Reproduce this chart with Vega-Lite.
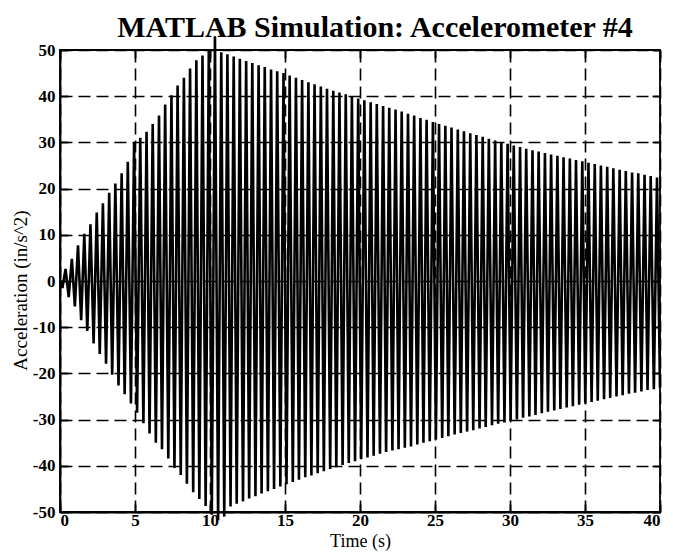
{
  "$schema": "https://vega.github.io/schema/vega-lite/v6.json",
  "width": 600,
  "height": 462,
  "autosize": "none",
  "padding": {"left": 60, "top": 50, "right": 13, "bottom": 43},
  "background": "white",
  "title": {"text": "MATLAB Simulation: Accelerometer #4", "font": "Liberation Serif", "fontSize": 30, "fontWeight": "bold", "color": "black", "anchor": "middle", "offset": -12, "dx": 15},
  "config": {
    "view": {"stroke": "black", "strokeWidth": 1.8},
    "axis": {
      "labelFont": "Liberation Serif", "labelFontSize": 17, "labelFontWeight": "bold", "labelColor": "black",
      "titleFont": "Liberation Serif", "titleFontSize": 19, "titleFontWeight": "normal", "titleColor": "black",
      "domainColor": "black", "domainWidth": 1.8, "tickColor": "black", "tickWidth": 1.8,
      "gridColor": "black", "gridOpacity": 1, "gridWidth": 1.6, "gridDash": [12, 6]
    }
  },
  "data": {"values": [
    {"t":0,"a":0},{"t":0.16,"a":-1.5},
    {"t":0.37,"a":2.6},{"t":0.58,"a":-3.5},
    {"t":0.79,"a":4.8},{"t":0.99,"a":-5.5},
    {"t":1.2,"a":7.7},{"t":1.41,"a":-8.5},
    {"t":1.62,"a":10.2},{"t":1.82,"a":-10.8},
    {"t":2.03,"a":12.3},{"t":2.24,"a":-13.5},
    {"t":2.45,"a":14.8},{"t":2.65,"a":-15.8},
    {"t":2.86,"a":16.8},{"t":3.07,"a":-17.9},
    {"t":3.28,"a":19.1},{"t":3.48,"a":-20.3},
    {"t":3.69,"a":21.1},{"t":3.9,"a":-22.6},
    {"t":4.11,"a":23.3},{"t":4.31,"a":-24.5},
    {"t":4.52,"a":25.8},{"t":4.73,"a":-26.5},
    {"t":4.94,"a":30},{"t":5.14,"a":-28.5},
    {"t":5.35,"a":31},{"t":5.56,"a":-30.8},
    {"t":5.77,"a":32.3},{"t":5.97,"a":-33},
    {"t":6.18,"a":34},{"t":6.39,"a":-35},
    {"t":6.6,"a":35.8},{"t":6.8,"a":-36.4},
    {"t":7.01,"a":38.2},{"t":7.22,"a":-38.4},
    {"t":7.43,"a":40.2},{"t":7.63,"a":-40.5},
    {"t":7.84,"a":42.3},{"t":8.05,"a":-42},
    {"t":8.26,"a":44},{"t":8.46,"a":-43.9},
    {"t":8.67,"a":46},{"t":8.88,"a":-45.7},
    {"t":9.09,"a":47.8},{"t":9.29,"a":-47.2},
    {"t":9.5,"a":48.8},{"t":9.71,"a":-48.7},
    {"t":9.92,"a":50},{"t":10.12,"a":-50.6},
    {"t":10.33,"a":53},{"t":10.54,"a":-51.8},
    {"t":10.75,"a":49.5},{"t":10.95,"a":-51},
    {"t":11.16,"a":49.1},{"t":11.37,"a":-48.8},
    {"t":11.58,"a":48.6},{"t":11.78,"a":-48.2},
    {"t":11.99,"a":48.1},{"t":12.2,"a":-47.7},
    {"t":12.41,"a":47.6},{"t":12.61,"a":-47.1},
    {"t":12.82,"a":47.2},{"t":13.03,"a":-46.6},
    {"t":13.24,"a":46.7},{"t":13.44,"a":-46},
    {"t":13.65,"a":46.3},{"t":13.86,"a":-45.5},
    {"t":14.07,"a":45.8},{"t":14.27,"a":-45},
    {"t":14.48,"a":45.4},{"t":14.69,"a":-44.5},
    {"t":14.9,"a":45},{"t":15.1,"a":-44},
    {"t":15.31,"a":44.5},{"t":15.52,"a":-43.5},
    {"t":15.73,"a":44},{"t":15.93,"a":-43},
    {"t":16.14,"a":43.5},{"t":16.35,"a":-42.5},
    {"t":16.56,"a":43},{"t":16.76,"a":-42.1},
    {"t":16.97,"a":42.6},{"t":17.18,"a":-41.6},
    {"t":17.39,"a":42.1},{"t":17.59,"a":-41.2},
    {"t":17.8,"a":41.6},{"t":18.01,"a":-40.7},
    {"t":18.22,"a":41.2},{"t":18.42,"a":-40.3},
    {"t":18.63,"a":40.8},{"t":18.84,"a":-39.8},
    {"t":19.05,"a":40.4},{"t":19.25,"a":-39.4},
    {"t":19.46,"a":39.9},{"t":19.67,"a":-39},
    {"t":19.88,"a":39.5},{"t":20.08,"a":-38.6},
    {"t":20.29,"a":39.1},{"t":20.5,"a":-38.2},
    {"t":20.71,"a":38.7},{"t":20.91,"a":-37.8},
    {"t":21.12,"a":38.3},{"t":21.33,"a":-37.4},
    {"t":21.54,"a":37.9},{"t":21.74,"a":-37},
    {"t":21.95,"a":37.5},{"t":22.16,"a":-36.7},
    {"t":22.37,"a":37.1},{"t":22.57,"a":-36.4},
    {"t":22.78,"a":36.7},{"t":22.99,"a":-36.1},
    {"t":23.2,"a":36.2},{"t":23.4,"a":-35.8},
    {"t":23.61,"a":35.8},{"t":23.82,"a":-35.4},
    {"t":24.03,"a":35.3},{"t":24.23,"a":-35},
    {"t":24.44,"a":34.9},{"t":24.65,"a":-34.7},
    {"t":24.86,"a":34.4},{"t":25.06,"a":-34.3},
    {"t":25.27,"a":34},{"t":25.48,"a":-34},
    {"t":25.69,"a":33.6},{"t":25.89,"a":-33.6},
    {"t":26.1,"a":33.2},{"t":26.31,"a":-33.2},
    {"t":26.52,"a":32.8},{"t":26.72,"a":-32.9},
    {"t":26.93,"a":32.4},{"t":27.14,"a":-32.6},
    {"t":27.35,"a":32},{"t":27.55,"a":-32.3},
    {"t":27.76,"a":31.6},{"t":27.97,"a":-31.9},
    {"t":28.18,"a":31.2},{"t":28.38,"a":-31.6},
    {"t":28.59,"a":30.8},{"t":28.8,"a":-31.2},
    {"t":29.01,"a":30.4},{"t":29.21,"a":-30.9},
    {"t":29.42,"a":30.1},{"t":29.63,"a":-30.6},
    {"t":29.84,"a":29.7},{"t":30.04,"a":-30.3},
    {"t":30.25,"a":29.3},{"t":30.46,"a":-30},
    {"t":30.67,"a":29},{"t":30.87,"a":-29.6},
    {"t":31.08,"a":28.6},{"t":31.29,"a":-29.3},
    {"t":31.5,"a":28.3},{"t":31.7,"a":-29},
    {"t":31.91,"a":28},{"t":32.12,"a":-28.6},
    {"t":32.33,"a":27.7},{"t":32.53,"a":-28.3},
    {"t":32.74,"a":27.4},{"t":32.95,"a":-28},
    {"t":33.16,"a":27.1},{"t":33.36,"a":-27.7},
    {"t":33.57,"a":26.8},{"t":33.78,"a":-27.4},
    {"t":33.99,"a":26.5},{"t":34.19,"a":-27.1},
    {"t":34.4,"a":26.2},{"t":34.61,"a":-26.8},
    {"t":34.82,"a":25.9},{"t":35.02,"a":-26.5},
    {"t":35.23,"a":25.6},{"t":35.44,"a":-26.2},
    {"t":35.65,"a":25.3},{"t":35.85,"a":-25.9},
    {"t":36.06,"a":25},{"t":36.27,"a":-25.6},
    {"t":36.48,"a":24.7},{"t":36.68,"a":-25.3},
    {"t":36.89,"a":24.4},{"t":37.1,"a":-25},
    {"t":37.31,"a":24.1},{"t":37.51,"a":-24.7},
    {"t":37.72,"a":23.8},{"t":37.93,"a":-24.4},
    {"t":38.14,"a":23.5},{"t":38.34,"a":-24.2},
    {"t":38.55,"a":23.3},{"t":38.76,"a":-23.9},
    {"t":38.97,"a":23},{"t":39.17,"a":-23.6},
    {"t":39.38,"a":22.7},{"t":39.59,"a":-23.4},
    {"t":39.8,"a":22.4},{"t":40,"a":-23.1}
  ]},
  "resolve": {"axis": {"x": "independent", "y": "independent"}},
  "layer": [
    {
      "mark": {"type": "line", "color": "black", "strokeWidth": 2.6, "clip": false},
      "encoding": {
        "x": {"field": "t", "type": "quantitative", "scale": {"domain": [0, 40], "nice": false, "zero": false},
              "axis": {"orient": "bottom", "values": [0,5,10,15,20,25,30,35,40], "labelExpr": "'' + datum.value", "title": "Time (s)", "titleFontSize": 18, "grid": true, "tickSize": -8, "labelPadding": 8, "titlePadding": 4}},
        "y": {"field": "a", "type": "quantitative", "scale": {"domain": [-50, 50], "nice": false},
              "axis": {"orient": "left", "values": [-50,-40,-30,-20,-10,0,10,20,30,40,50], "labelExpr": "'' + datum.value", "title": "Acceleration (in/s^2)", "grid": true, "tickSize": -8, "labelPadding": 13, "titlePadding": 2, "titleY": 240}}
      }
    },
    {
      "mark": {"type": "line", "opacity": 0, "clip": true},
      "encoding": {
        "x": {"field": "t", "type": "quantitative", "scale": {"domain": [0, 40], "nice": false},
              "axis": {"orient": "top", "values": [0,5,10,15,20,25,30,35,40], "labels": false, "title": null, "grid": false, "domain": false, "tickSize": -8}},
        "y": {"field": "a", "type": "quantitative", "scale": {"domain": [-50, 50], "nice": false},
              "axis": {"orient": "right", "values": [-50,-40,-30,-20,-10,0,10,20,30,40,50], "labels": false, "title": null, "grid": false, "domain": false, "tickSize": -8}}
      }
    }
  ]
}
